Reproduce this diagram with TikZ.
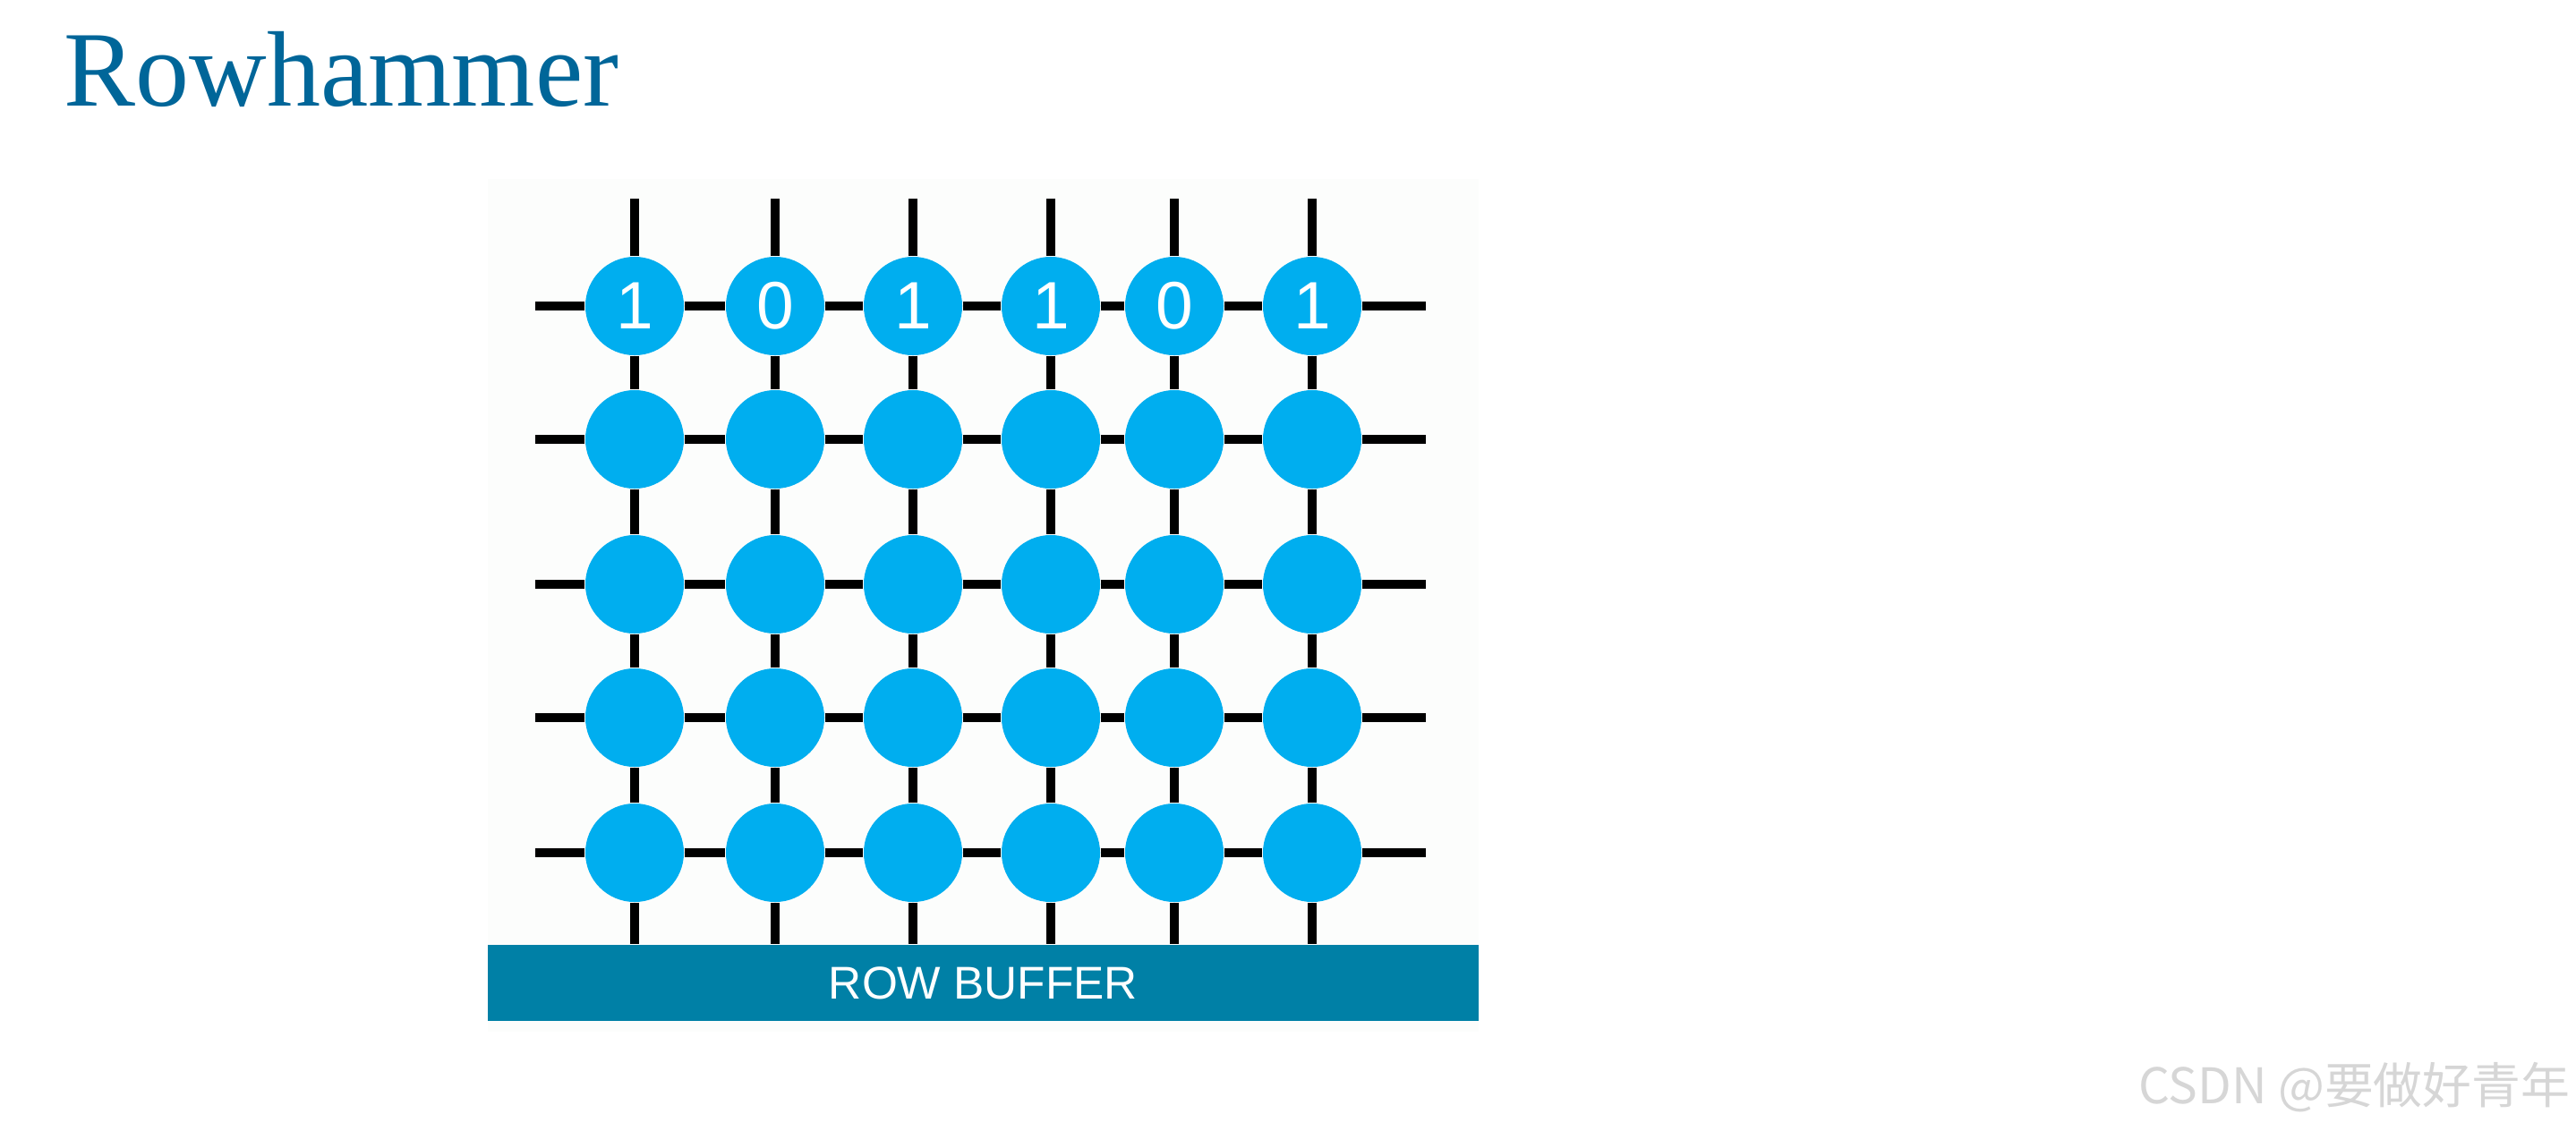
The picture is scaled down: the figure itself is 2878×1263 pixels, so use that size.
\documentclass[tikz,border=0pt]{standalone}
\usepackage{fontspec}
\setmainfont{Liberation Serif}
\newfontfamily\cellfont{Liberation Sans}
\newfontfamily\cjk{Noto Sans CJK SC}
\usepackage{tikz}
\usetikzlibrary{positioning}

\definecolor{cellblue}{RGB}{0,174,239}
\definecolor{bufblue}{RGB}{0,128,166}
\definecolor{titleblue}{RGB}{0,102,153}
\definecolor{panelgray}{RGB}{252,253,252}
\definecolor{markgray}{RGB}{214,214,214}

\begin{document}
\begin{tikzpicture}[x=0.01cm,y=-0.01cm,
    cell/.style={circle,fill=cellblue,minimum size=1.1cm,inner sep=0pt,
      text=white,font=\cellfont\fontsize{21.3}{22}\selectfont},
    wire/.style={line width=2.6pt,black}]
    \fill[white] (0,0) rectangle (2878,1263);
    \useasboundingbox (0,0) rectangle (2878,1263);
    \fill[panelgray] (545,200) rectangle (1652,1153);

    \node (title) [anchor=base west,inner sep=0pt,text=titleblue,
      font=\fontsize{34.1}{35}\selectfont] at (71,118) {Rowhammer};
    \node (buffer) [fill=bufblue,minimum width=11.07cm,minimum height=0.85cm,
      inner sep=0pt,text=white,font=\cellfont\fontsize{14.6}{15}\selectfont]
      at (1098.5,1098.5) {ROW BUFFER};

    % cells: first row holds the bits
    \foreach \c/\x/\b in {1/709/1,2/866/0,3/1020/1,4/1174/1,5/1312/0,6/1466/1}
      \node (c1\c) [cell] at (\x,342) {\b};
    \foreach \c/\x in {1/709,2/866,3/1020,4/1174,5/1312,6/1466}
      \foreach \r/\y in {2/491,3/653,4/802,5/953}
        \node (c\r\c) [cell] at (\x,\y) {};

    % word lines
    \foreach \r/\y in {1/342,2/491,3/653,4/802,5/953}{
      \coordinate (l\r) at (598,\y);
      \coordinate (e\r) at (1593,\y);
      \draw[wire] (l\r) -- (c\r1);
      \foreach \c [count=\n from 2] in {1,...,5}
        \draw[wire] (c\r\c) -- (c\r\n);
      \draw[wire] (c\r6) -- (e\r);
    }
    % bit lines
    \foreach \c/\x in {1/709,2/866,3/1020,4/1174,5/1312,6/1466}{
      \coordinate (t\c) at (\x,222);
      \draw[wire] (t\c) -- (c1\c);
      \foreach \r [count=\n from 2] in {1,...,4}
        \draw[wire] (c\r\c) -- (c\n\c);
      \draw[wire] (c5\c) -- (c5\c |- buffer.north);
    }

    \node (mark) [anchor=base east,inner sep=0pt,text=markgray,
      font=\cjk\fontsize{15.6}{16}\selectfont] at (2872,1233) {CSDN @要做好青年};
\end{tikzpicture}
\end{document}
